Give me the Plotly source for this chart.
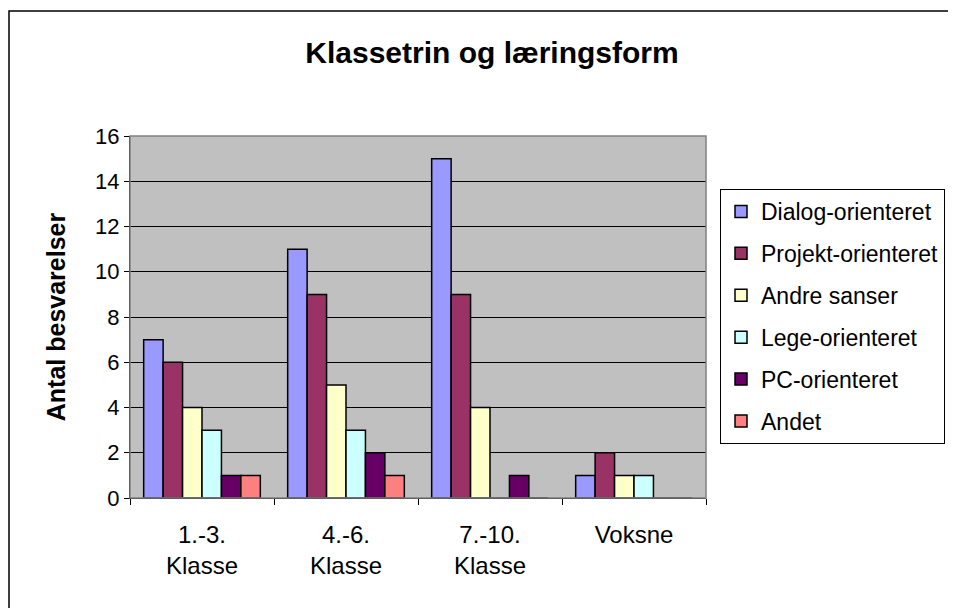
import plotly.graph_objects as go

categories = ["1.-3.<br>Klasse", "4.-6.<br>Klasse", "7.-10.<br>Klasse", "Voksne"]
series_names = ["Dialog-orienteret", "Projekt-orienteret", "Andre sanser",
                "Lege-orienteret", "PC-orienteret", "Andet"]
dialog = [7, 11, 15, 1]
projekt = [6, 9, 9, 2]
andre = [4, 5, 4, 1]
lege = [3, 3, 0, 1]
pc = [1, 2, 1, 0]
andet = [1, 1, 0, 0]
y_ticks = [0, 2, 4, 6, 8, 10, 12, 14, 16]

series_values = [dialog, projekt, andre, lege, pc, andet]
colors = ["#9999FF", "#993366", "#FFFFCC", "#CCFFFF", "#660066", "#FF8080"]

FONT = "Liberation Sans, Arial, sans-serif"

fig = go.Figure()
for name, vals, col in zip(series_names, series_values, colors):
    fig.add_trace(go.Bar(
        name=name, x=categories, y=vals, legendgroup=name,
        marker=dict(color=col, line=dict(color="black", width=1.5)),
    ))

# page body has an 8px default margin; work in window pixels and offset
OFF = 8
W, H = 956 - OFF, 608 - OFF
L, R, T, B = 130 - OFF, 956 - 706, 136 - OFF, 608 - 498
pw, ph = W - L - R, H - T - B

def px(x):
    return (x - OFF - L) / pw

def py(y):
    return (H - B - (y - OFF)) / ph

fig.update_layout(
    width=W, height=H,
    margin=dict(l=L, r=R, t=T, b=B, autoexpand=False),
    paper_bgcolor="white", plot_bgcolor="#C0C0C0",
    barmode="group", bargap=0.19, bargroupgap=0,
    font=dict(family=FONT, size=22, color="black"),
    title=dict(text="<b>Klassetrin og læringsform</b>", x=(492 - OFF) / W, xref="container",
               xanchor="center", y=1 - (52 - OFF) / H, yref="container", yanchor="middle",
               font=dict(size=30, family=FONT, color="black")),
    legend=dict(x=px(720), xanchor="left", y=py(189), yanchor="top",
                bordercolor="black", borderwidth=1, bgcolor="white",
                font=dict(size=23, family=FONT), tracegroupgap=9,
                traceorder="grouped"),
    showlegend=True,
)
fig.update_xaxes(
    showline=True, linecolor="black", linewidth=1,
    ticks="outside", tickson="boundaries", ticklen=6, tickcolor="black",
    tickfont=dict(size=24, family=FONT), showgrid=False, ticklabelstandoff=15,
)
fig.update_yaxes(
    range=[0, 16], tickvals=y_ticks, showline=True, linecolor="black", linewidth=1,
    ticks="outside", ticklen=5, tickcolor="black",
    showgrid=True, gridcolor="black", gridwidth=1, zeroline=False,
    tickfont=dict(size=22, family=FONT),
    title=dict(text="<b>Antal besvarelser</b>", font=dict(size=25, family=FONT), standoff=22),
)
# plot-area border (gray, top and right)
fig.add_shape(type="rect", xref="paper", yref="paper", x0=0, x1=1, y0=0, y1=1,
              line=dict(color="#808080", width=1.5), layer="above")
# outer chart border (left edge kept at the figure's own edge)
fig.add_shape(type="rect", xref="paper", yref="paper",
              x0=(1 - L) / pw, x1=2, y0=-2, y1=py(11),
              line=dict(color="black", width=1.5))

fig.write_html("out.html")
